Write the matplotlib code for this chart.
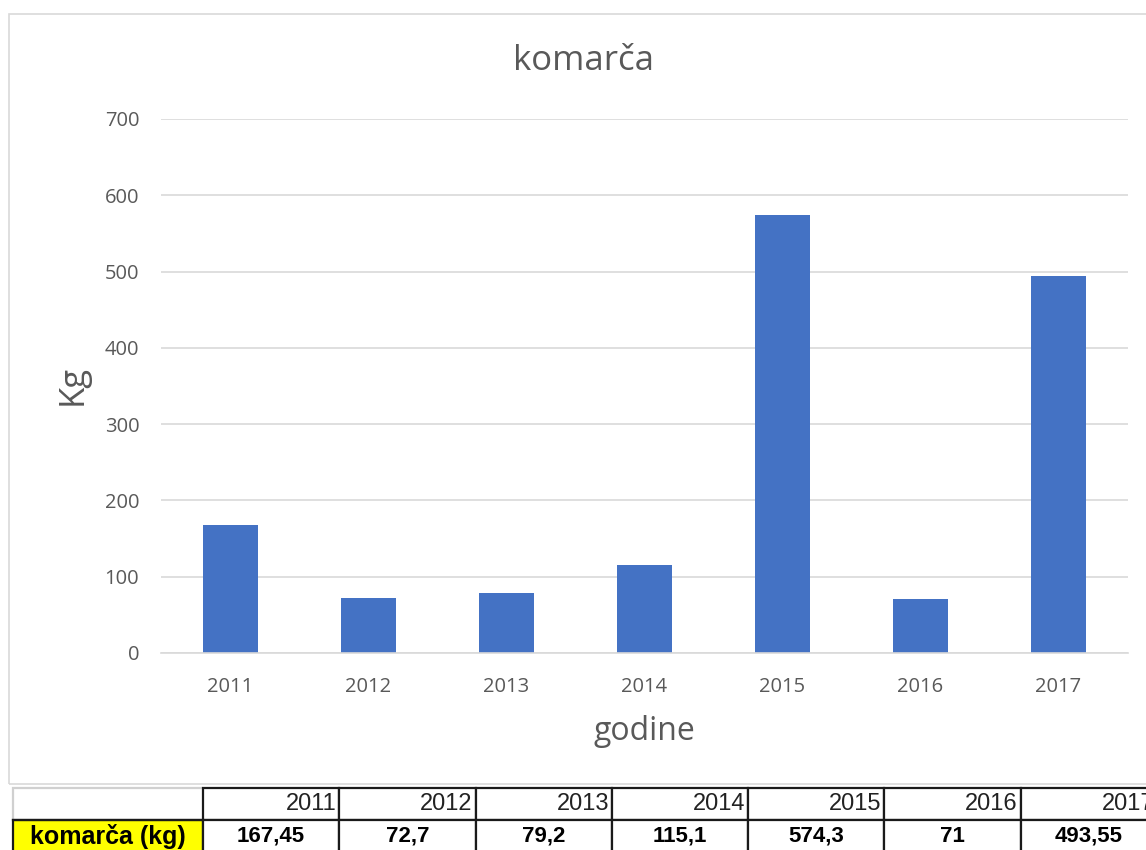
import matplotlib.pyplot as plt
from matplotlib.patches import Rectangle

# podaci
godine = ['2011', '2012', '2013', '2014', '2015', '2016', '2017']
komarca_kg = [167.45, 72.7, 79.2, 115.1, 574.3, 71, 493.55]
tablica_vrijednosti = ['167,45', '72,7', '79,2', '115,1', '574,3', '71', '493,55']

W, H = 1146, 850
fig = plt.figure(figsize=(W / 100, H / 100), dpi=100)

# okvir grafikona
fig.patches.append(Rectangle((9 / W, 1 - 784 / H), (1157 - 9) / W, (784 - 14) / H,
                             transform=fig.transFigure, fill=False,
                             edgecolor='#d9d9d9', linewidth=1.2))

ax = fig.add_axes([161.5 / W, 1 - 653 / H, 966 / W, 534 / H])
ax.bar(range(len(godine)), komarca_kg, width=0.4, color='#4472C4', zorder=2)
ax.set_xlim(-0.5, len(godine) - 0.5)
ax.set_ylim(0, 700)
ax.set_yticks(range(0, 701, 100))
ax.set_xticks(range(len(godine)))
ax.set_xticklabels(godine)
ax.grid(axis='y', color='#d9d9d9', linewidth=1.2, zorder=0)
for s in ['top', 'right', 'left']:
    ax.spines[s].set_visible(False)
ax.spines['bottom'].set_color('#d9d9d9')
ax.spines['bottom'].set_linewidth(1.2)
ax.tick_params(axis='both', length=0, labelsize=14.5, labelcolor='#595959')
ax.tick_params(axis='y', pad=16)
ax.tick_params(axis='x', pad=17)
for lbl in ax.get_xticklabels() + ax.get_yticklabels():
    lbl.set_family('Open Sans')

fig.text(583 / W, 1 - 61 / H, 'komarča', ha='center', va='center',
         fontsize=25, color='#595959', family='Open Sans')
fig.text(644.5 / W, 1 - 731 / H, 'godine', ha='center', va='center',
         fontsize=23, color='#595959', family='Open Sans')
fig.text(73 / W, 1 - 385 / H, 'Kg', ha='center', va='center', rotation=90,
         fontsize=25, color='#595959', family='Open Sans')

# tablica ispod grafikona
tax = fig.add_axes([13 / W, 1 - 852 / H, (1157 - 13) / W, 64 / H])
tax.axis('off')
sirine = [190] + [136.3] * 7
tbl = tax.table(cellText=[[''] + godine, ['komarča (kg)'] + tablica_vrijednosti],
                colWidths=[s / sum(sirine) for s in sirine],
                bbox=[0, 0, 1, 1], cellLoc='center')
tbl.auto_set_font_size(False)
for (r, c), cell in tbl.get_celld().items():
    cell.set_linewidth(1.6)
    cell.set_edgecolor('#1a1a1a')
    t = cell.get_text()
    t.set_family('Liberation Sans')
    if r == 0:
        t.set_ha('right')
        t.set_fontsize(17)
        t.set_color('#222222')
        cell.PAD = 0.02
    else:
        t.set_weight('bold')
        t.set_fontsize(16)
    if r == 0 and c == 0:
        cell.set_edgecolor('#d0d0d0')
    if r == 1 and c == 0:
        cell.set_facecolor('#ffff00')
        t.set_fontsize(18)
tbl[0, 0].visible_edges = 'LT'
tax.plot([0, sirine[0] / sum(sirine)], [0.5, 0.5], color='#1a1a1a', lw=1.6,
         transform=tax.transAxes, clip_on=False)

fig.savefig('out.png', dpi=100)
